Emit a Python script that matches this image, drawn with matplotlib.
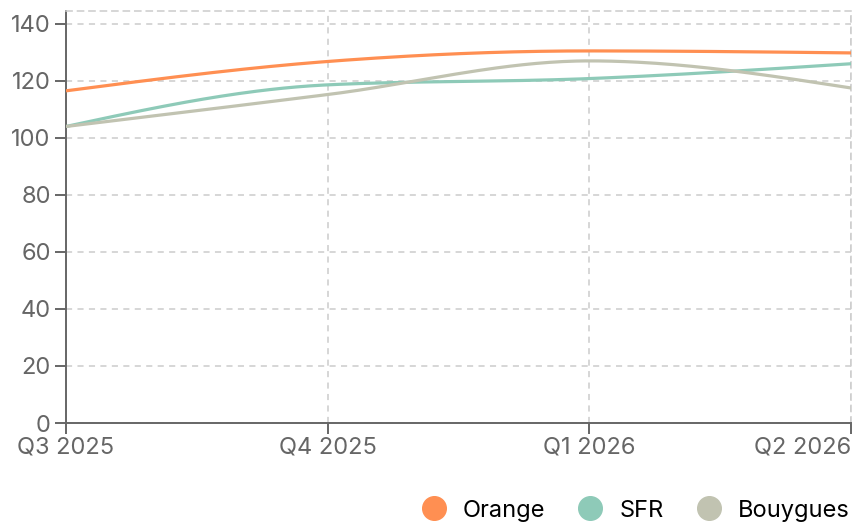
import numpy as np
import matplotlib
matplotlib.use("Agg")
import matplotlib.pyplot as plt
from matplotlib.lines import Line2D

plt.rcParams['font.family'] = ['Inter', 'DejaVu Sans']

quarters = ["Q3 2025", "Q4 2025", "Q1 2026", "Q2 2026"]
orange = [116.5, 126.8, 130.5, 129.8]
sfr = [104.0, 118.6, 120.8, 126.0]
bouygues = [104.0, 115.2, 127.0, 117.5]

series = [("Orange", orange, "#ff8f52"),
          ("SFR", sfr, "#8ecab8"),
          ("Bouygues", bouygues, "#c1c3b1")]


def monotone_x(xs, ys, n=60):
    # courbe monotone (comme d3.curveMonotoneX)
    xs = np.asarray(xs, float); ys = np.asarray(ys, float)
    h = np.diff(xs); s = np.diff(ys) / h
    m = np.zeros(len(xs))
    for i in range(1, len(xs) - 1):
        p = (s[i - 1] * h[i] + s[i] * h[i - 1]) / (h[i - 1] + h[i])
        m[i] = (np.sign(s[i - 1]) + np.sign(s[i])) * min(abs(s[i - 1]), abs(s[i]), 0.5 * abs(p))
    m[0] = (3 * s[0] - m[1]) / 2
    m[-1] = (3 * s[-1] - m[-2]) / 2
    px, py = [], []
    for i in range(len(xs) - 1):
        t = np.linspace(0, 1, n)
        h00 = 2*t**3 - 3*t**2 + 1; h10 = t**3 - 2*t**2 + t
        h01 = -2*t**3 + 3*t**2; h11 = t**3 - t**2
        px.append(xs[i] + t * h[i])
        py.append(h00*ys[i] + h10*h[i]*m[i] + h01*ys[i+1] + h11*h[i]*m[i+1])
    return np.concatenate(px), np.concatenate(py)


fig = plt.figure(figsize=(8.68, 5.22), dpi=100)
ax = fig.add_axes([66/868, 99/522, (851-66)/868, (423-11)/522])

x = np.arange(len(quarters))
for nom, vals, col in series:
    cx, cy = monotone_x(x, vals)
    ax.plot(cx, cy, color=col, lw=2.3, solid_capstyle='butt', zorder=3)

ax.set_xlim(0, len(quarters) - 1)
ax.set_ylim(0, 144.5)
ax.set_yticks(range(0, 141, 20))
ax.set_xticks(x)
ax.set_xticklabels(quarters)
labels = ax.get_xticklabels()
labels[-1].set_horizontalalignment('right')

ax.grid(True, color="#cccccc", ls=(0, (4, 3.5)), lw=1.1, zorder=0)
for sp in ['top', 'right']:
    ax.spines[sp].set_visible(True)
    ax.spines[sp].set_color("#cccccc")
    ax.spines[sp].set_linestyle((0, (4, 3.5)))
    ax.spines[sp].set_linewidth(1.1)
for sp in ['left', 'bottom']:
    ax.spines[sp].set_color("#666666")
    ax.spines[sp].set_linewidth(1.4)
ax.tick_params(colors="#666666", labelsize=17, length=8, width=1.4)
ax.tick_params(axis='x', pad=2)
ax.tick_params(axis='y', pad=3)

handles = [Line2D([], [], ls='none', marker='o', ms=17, color=c, label=n)
           for n, _, c in series]
fig.legend(handles=handles, loc='lower right', bbox_to_anchor=(1.003, -0.04), ncol=3,
           frameon=False, fontsize=17, handletextpad=0.63, columnspacing=1.3,
           handlelength=1.2)

fig.savefig("out.png", dpi=100)
